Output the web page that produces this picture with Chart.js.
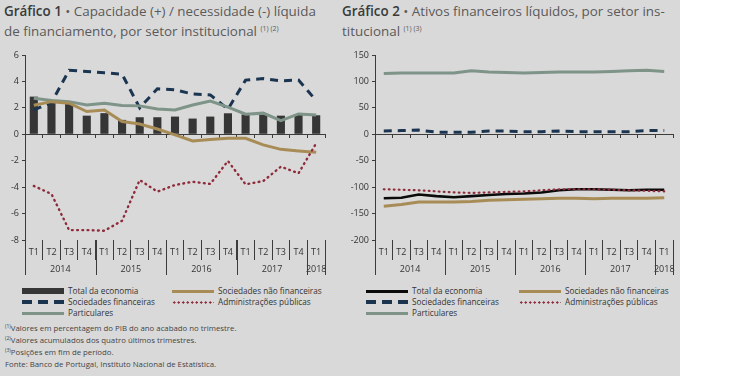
<!DOCTYPE html>
<html><head><meta charset="utf-8">
<script src="https://cdn.jsdelivr.net/npm/chart.js@4.4.1/dist/chart.umd.min.js"></script>
<style>
html,body{margin:0;padding:0;background:#fff;}
body{width:750px;height:376px;position:relative;overflow:hidden;font-family:"Open Sans",sans-serif;}
#bg{position:absolute;left:0;top:0;width:680px;height:376px;background:#d9d9d9;}
.title{position:absolute;top:1px;font-size:13.4px;line-height:20px;color:#5a5a5a;white-space:nowrap;}
.title b{font-weight:600;color:#3a3a3a;}
.title sup{font-size:7px;vertical-align:5px;line-height:0;}
.cv{position:absolute;top:45px;width:340px;height:240px;}
.leg{position:absolute;font-size:8.2px;color:#333;white-space:nowrap;line-height:11px;}
.sw{position:absolute;height:0;}
.foot{position:absolute;left:5px;font-size:7.8px;color:#444;white-space:nowrap;line-height:12px;}
.foot sup{font-size:5px;vertical-align:3px;line-height:0;}
</style></head>
<body>
<div id="bg"></div>
<div class="title" style="left:4px;"><b>Gráfico 1</b> • Capacidade (+) / necessidade (-) líquida<br>de financiamento, por setor institucional <sup>(1) (2)</sup></div>
<div class="title" style="left:342px;"><b>Gráfico 2</b> • Ativos financeiros líquidos, por setor ins-<br>titucional <sup>(1) (3)</sup></div>
<div class="cv" style="left:0px;"><canvas id="c1" width="340" height="240"></canvas></div>
<div class="cv" style="left:340px;"><canvas id="c2" width="340" height="240"></canvas></div>
<div id="legs"></div>
<div class="foot" style="top:322px;"><sup>(1)</sup>Valores em percentagem do PIB do ano acabado no trimestre.</div>
<div class="foot" style="top:334px;"><sup>(2)</sup>Valores acumulados dos quatro últimos trimestres.</div>
<div class="foot" style="top:346px;"><sup>(3)</sup>Posições em fim de período.</div>
<div class="foot" style="top:358px;">Fonte: Banco de Portugal, Instituto Nacional de Estatística.</div>
<script>
// ---- data ----
const quarters = ['T1','T2','T3','T4','T1','T2','T3','T4','T1','T2','T3','T4','T1','T2','T3','T4','T1'];
const years = ['2014','2015','2016','2017','2018'];
const yearSpans = [4,4,4,4,1];
const seriesNames = ['Total da economia','Sociedades financeiras','Particulares','Sociedades não financeiras','Administrações públicas'];

// Gráfico 1 (% PIB)
const g1Total  = [2.85,2.42,2.3,1.41,1.6,1.09,1.29,1.29,1.34,1.19,1.34,1.59,1.5,1.5,1.41,1.5,1.44];
const g1Fin    = [1.84,2.4,4.85,4.75,4.65,4.55,2.0,3.45,3.36,3.05,2.98,1.9,4.1,4.22,4.05,4.1,2.55];
const g1Part   = [2.73,2.55,2.47,2.22,2.35,2.17,2.15,1.92,1.84,2.22,2.52,2.05,1.52,1.6,1.04,1.54,1.46];
const g1NonFin = [2.2,2.47,2.35,1.72,1.84,0.96,0.78,0.4,-0.05,-0.5,-0.4,-0.3,-0.3,-0.8,-1.14,-1.26,-1.36];
const g1Admin  = [-3.91,-4.52,-7.25,-7.25,-7.3,-6.54,-3.46,-4.34,-3.84,-3.59,-3.76,-2.02,-3.79,-3.54,-2.45,-2.95,-0.68];
const g1Ticks  = {min:-8,max:6,step:2};

// Gráfico 2 (% PIB)
const g2Total  = [-121,-120,-114,-117,-119,-117,-115,-113,-112,-110,-106,-104,-104,-105,-106,-105,-105];
const g2Fin    = [6,7,8,4,4,4,6,6,5,5,6,5,5,5,5,7,7];
const g2Part   = [115,116,116,116,116,120,118,117,116,117,118,118,118,119,120,121,119];
const g2NonFin = [-136,-133,-128,-128,-128,-127,-125,-124,-123,-122,-121,-121,-122,-121,-121,-121,-120];
const g2Admin  = [-104,-105,-106,-108,-110,-111,-110,-109,-108,-106,-104,-104,-104,-105,-106,-107,-108];
const g2Ticks  = {min:-200,max:150,step:50};

// ---- styles ----
const AX = '#3c3c3c';
const C_TOTAL1 = '#363636', C_TOTAL2 = '#0a0a0a', C_FIN = '#1b3550', C_PART = '#7e9488', C_NONFIN = '#a88c56', C_ADMIN = '#8e2c3c';
const FONT = {family:'"Open Sans", sans-serif', size:9};

const yearAxisPlugin = {
  id:'yearAxis',
  afterDraw(chart){
    const ctx = chart.ctx, xs = chart.scales.x, ca = chart.chartArea;
    ctx.save();
    ctx.strokeStyle = AX; ctx.lineWidth = 1;
    ctx.fillStyle = '#333';
    ctx.font = '9px "Open Sans", sans-serif';
    ctx.textAlign = 'center'; ctx.textBaseline = 'middle';
    let start = 0;
    const step = xs.getPixelForValue(1) - xs.getPixelForValue(0);
    const bx = i => xs.getPixelForValue(0) + i * step;
    const bounds = [];
    yearSpans.forEach((n, k) => {
      const l = bx(start - 0.5), r = bx(start + n - 0.5);
      bounds.push(l);
      if (k === yearSpans.length-1) bounds.push(r);
      ctx.fillText(years[k], (l + r)/2, ca.bottom + 29);
      start += n;
    });
    bounds.forEach(x => {
      const px = Math.round(x) + 0.5;
      ctx.beginPath(); ctx.moveTo(px, ca.bottom); ctx.lineTo(px, ca.bottom + 35); ctx.stroke();
    });
    ctx.restore();
  }
};

function makeChart(id, tk, ds, yWidth, padRight){
  return new Chart(document.getElementById(id), {
    data:{labels:quarters, datasets:ds},
    options:{
      animation:false, responsive:false, maintainAspectRatio:false,
      layout:{padding:{left:0, top:10, right:padRight, bottom:10}},
      plugins:{legend:{display:false}, tooltip:{enabled:false}},
      scales:{
        y:{
          min:tk.min, max:tk.max,
          afterFit(s){ s.width = yWidth; },
          ticks:{stepSize:tk.step, font:FONT, color:'#333', padding:3},
          grid:{drawOnChartArea:false, drawTicks:true, tickLength:3, color:AX},
          border:{display:true, color:AX}
        },
        x:{
          type:'category', position:{y:0}, offset:true,
          ticks:{display:false},
          grid:{offset:true, drawOnChartArea:false, drawTicks:true, tickLength:3, color:AX},
          border:{display:true, color:AX}
        },
        xq:{
          type:'category', position:'bottom', offset:true, labels:quarters,
          afterFit(s){ s.height = 35; },
          ticks:{font:FONT, color:'#333', padding:-13, maxRotation:0, autoSkip:false},
          grid:{offset:true, drawOnChartArea:false, drawTicks:true, tickLength:20, color:AX},
          border:{display:false}
        }
      }
    },
    plugins:[yearAxisPlugin]
  });
}

const line = (label, data, color, w, extra) => Object.assign({type:'line', label, data, borderColor:color, backgroundColor:color, borderWidth:w, pointRadius:0, tension:0, xAxisID:'x', yAxisID:'y'}, extra||{});

makeChart('c1', g1Ticks, [
  line(seriesNames[4], g1Admin, C_ADMIN, 2.4, {borderDash:[0.8,4.4], borderCapStyle:'round'}),
  line(seriesNames[3], g1NonFin, C_NONFIN, 3),
  line(seriesNames[2], g1Part, C_PART, 3),
  line(seriesNames[1], g1Fin, C_FIN, 3, {borderDash:[8,6]}),
  {type:'bar', label:seriesNames[0], data:g1Total, backgroundColor:C_TOTAL1, barPercentage:0.46, categoryPercentage:1, xAxisID:'x', yAxisID:'y', order:10}
], 25, 15);

makeChart('c2', g2Ticks, [
  line(seriesNames[4], g2Admin, C_ADMIN, 2.2, {borderDash:[0.8,4.2], borderCapStyle:'round'}),
  line(seriesNames[3], g2NonFin, C_NONFIN, 3),
  line(seriesNames[0], g2Total, C_TOTAL2, 2.6),
  line(seriesNames[2], g2Part, C_PART, 3),
  line(seriesNames[1], g2Fin, C_FIN, 3, {borderDash:[8,6]})
], 35, 7);

// ---- legends ----
const legs = document.getElementById('legs');
function sw(x, y, w, css){ const d=document.createElement('div'); d.className='sw'; d.style.cssText=`left:${x}px;top:${y}px;width:${w}px;`+css; legs.appendChild(d); }
function tx(x, y, t){ const d=document.createElement('div'); d.className='leg'; d.style.left=x+'px'; d.style.top=(y-6)+'px'; d.textContent=t; legs.appendChild(d); }
const dashCss = c => `height:4px;margin-top:-2px;background:repeating-linear-gradient(90deg,${c} 0 10px,transparent 10px 16px);`;
const dotCss = c => `height:3px;margin-top:-1px;background:radial-gradient(circle,${c} 1.1px,transparent 1.3px) 0 0/4.5px 3px repeat-x;`;
const solidCss = (c,h) => `height:${h}px;margin-top:${-h/2}px;background:${c};`;
function legend(x0, x1, totalCss){
  const r = [291, 302, 313];
  sw(x0, r[0], 42, totalCss); tx(x0+46, r[0], seriesNames[0]);
  sw(x0, r[1], 42, dashCss(C_FIN)); tx(x0+46, r[1], seriesNames[1]);
  sw(x0, r[2], 42, solidCss(C_PART,3)); tx(x0+46, r[2], seriesNames[2]);
  sw(x1, r[0], 42, solidCss(C_NONFIN,3)); tx(x1+46, r[0], seriesNames[3]);
  sw(x1, r[1], 42, dotCss(C_ADMIN)); tx(x1+46, r[1], seriesNames[4]);
}
legend(22, 172, solidCss(C_TOTAL1,6));
legend(366, 519, solidCss(C_TOTAL2,3));
</script>
</body></html>
